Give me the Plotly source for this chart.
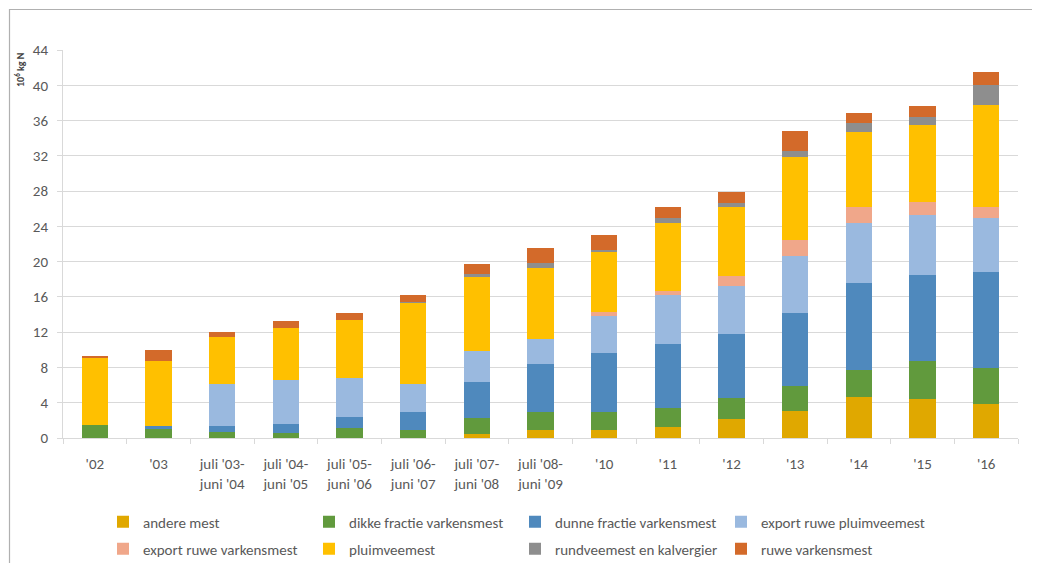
import plotly.graph_objects as go

categories = ["'02", "'03", "juli '03-<br>juni '04", "juli '04-<br>juni '05", "juli '05-<br>juni '06",
              "juli '06-<br>juni '07", "juli '07-<br>juni '08", "juli '08-<br>juni '09",
              "'10", "'11", "'12", "'13", "'14", "'15", "'16"]

andere_mest = [0, 0, 0, 0, 0, 0, 0.5, 0.9, 0.95, 1.2, 2.1, 3.1, 4.65, 4.45, 3.85]
dikke_fractie = [1.5, 1.05, 0.65, 0.6, 1.15, 0.95, 1.75, 2.0, 2.0, 2.2, 2.4, 2.8, 3.1, 4.25, 4.05]
dunne_fractie = [0, 0.35, 0.75, 1.0, 1.25, 2.05, 4.15, 5.5, 6.65, 7.25, 7.25, 8.25, 9.85, 9.75, 10.9]
export_pluim = [0, 0, 4.7, 5.0, 4.4, 3.1, 3.5, 2.8, 4.25, 5.55, 5.5, 6.5, 6.75, 6.8, 6.1]
export_varkens = [0, 0, 0, 0, 0, 0, 0, 0, 0.4, 0.5, 1.15, 1.8, 1.85, 1.5, 1.25]
pluimveemest = [7.65, 7.35, 5.4, 5.9, 6.6, 9.25, 8.35, 8.1, 6.85, 7.65, 7.8, 9.45, 8.45, 8.7, 11.6]
rundveemest = [0, 0, 0, 0, 0, 0.1, 0.35, 0.5, 0.25, 0.55, 0.4, 0.7, 1.05, 0.95, 2.25]
ruwe_varkens = [0.15, 1.25, 0.5, 0.8, 0.8, 0.8, 1.15, 1.7, 1.65, 1.3, 1.35, 2.2, 1.2, 1.2, 1.45]

series = [
    ("andere mest", andere_mest, "#E0A800"),
    ("dikke fractie varkensmest", dikke_fractie, "#619A3D"),
    ("dunne fractie varkensmest", dunne_fractie, "#4F89BD"),
    ("export ruwe pluimveemest", export_pluim, "#9AB9DF"),
    ("export ruwe varkensmest", export_varkens, "#F0A78A"),
    ("pluimveemest", pluimveemest, "#FFC000"),
    ("rundveemest en kalvergier", rundveemest, "#8E8E8E"),
    ("ruwe varkensmest", ruwe_varkens, "#D36A2A"),
]

font_fam = "Carlito, Lato, Open Sans, Arial"

fig = go.Figure()
for i, (name, vals, col) in enumerate(series):
    fig.add_trace(go.Bar(x=categories, y=vals, name=name,
                         legend="legend" if i < 4 else "legend2",
                         marker=dict(color=col, line=dict(width=0))))

# page offset of 8 px (body margin)
OFF = 8
W, H = 1040 - OFF, 563 - OFF
L, R, T, B = 63 - OFF, 1040 - 1018, 50 - OFF, 563 - 438
pw, ph = W - L - R, H - T - B

def px(x):
    return (x - OFF - L) / pw

def py(y):
    return (H - B - (y - OFF)) / ph

leg_common = dict(orientation="h", xanchor="left", yanchor="middle",
                  entrywidth=161, entrywidthmode="pixels", traceorder="normal",
                  font=dict(size=15, color="#595959", family=font_fam), itemwidth=30,
                  bgcolor="rgba(0,0,0,0)")

fig.update_layout(
    width=W, height=H,
    barmode="stack", bargap=0.59,
    plot_bgcolor="white", paper_bgcolor="white",
    margin=dict(l=L, r=R, t=T, b=B, autoexpand=False),
    font=dict(family=font_fam, size=15, color="#595959"),
    xaxis=dict(showline=True, linecolor="#D9D9D9", linewidth=1, ticks="outside", tickson="boundaries",
               ticklen=5, tickcolor="#D9D9D9", tickfont=dict(size=15, color="#595959"), showgrid=False,
               ticklabelstandoff=12),
    yaxis=dict(range=[0, 44], dtick=4, tick0=0, showline=True, linecolor="#D9D9D9", linewidth=1,
               gridcolor="#D9D9D9", gridwidth=1, ticks="outside", ticklen=5, tickcolor="#D9D9D9",
               tickfont=dict(size=15, color="#595959"), zeroline=False, ticklabelstandoff=6),
    legend=dict(x=px(103), y=py(522), **leg_common),
    legend2=dict(x=px(103), y=py(549), **leg_common),
    showlegend=True,
)

fig.add_annotation(text="<b>10<sup>6</sup> kg N</b>", x=px(20), y=py(70), xref="paper", yref="paper",
                   textangle=-90, showarrow=False, font=dict(size=10, color="#404040", family=font_fam),
                   xanchor="center", yanchor="middle")

fig.add_shape(type="rect", xref="paper", yref="paper", x0=px(9.5), x1=px(1060), y0=py(9.5), y1=py(600),
              line=dict(color="#B0B0B0", width=1.2), fillcolor="rgba(0,0,0,0)", layer="above")

fig.write_html("out.html")
